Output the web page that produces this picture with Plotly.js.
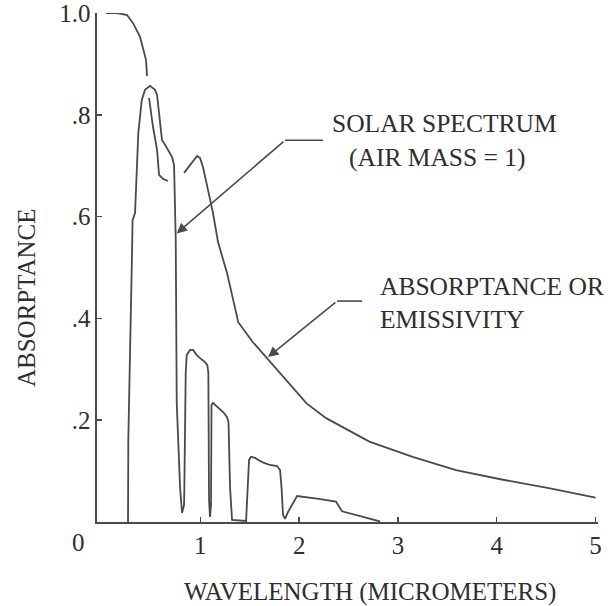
<!DOCTYPE html>
<html>
<head>
<meta charset="utf-8">
<script src="https://cdn.plot.ly/plotly-3.0.1.min.js"></script>
<style>html,body{margin:0;padding:0;background:#fff;}#chart{width:613px;height:606px;}</style>
</head>
<body>
<div id="chart"></div>
<script>
// Solar spectrum (air mass = 1), wavelength in micrometers
const solarX = [0.268,0.271,0.309,0.314,0.339,0.372,0.407,0.440,0.491,0.541,0.562,0.612,0.643,0.714,0.734,0.751,0.761,0.795,0.815,0.835,0.838,0.852,0.862,0.896,0.926,0.964,0.997,1.047,1.071,1.081,1.088,1.098,1.108,1.113,1.128,1.179,1.240,1.270,1.285,1.301,1.321,1.463,1.483,1.493,1.513,1.554,1.604,1.645,1.705,1.776,1.807,1.822,1.837,1.857,1.888,1.979,2.181,2.373,2.434,2.616,2.819];
const solarY = [0,0.161,0.534,0.593,0.607,0.764,0.829,0.849,0.857,0.849,0.839,0.750,0.741,0.717,0.701,0.554,0.234,0.067,0.018,0.033,0.067,0.293,0.328,0.338,0.338,0.328,0.322,0.314,0.308,0.293,0.043,0.010,0.033,0.230,0.234,0.224,0.214,0.206,0.196,0.067,0.004,0.002,0.067,0.122,0.128,0.126,0.120,0.116,0.112,0.110,0.102,0.067,0.014,0.006,0.020,0.051,0.046,0.040,0.021,0.012,0.001];

// Absorptance or emissivity curve (pen lifts shown as gaps)
const emisX = [0.046,0.157,0.258,0.319,0.390,0.420,0.450,0.461,null,0.481,0.521,0.562,0.582,0.623,0.673,null,0.835,0.916,0.967,0.997,1.027,1.078,1.128,1.179,1.270,1.372,1.382,1.524,1.675,2.009,2.075,2.273,2.711,3.149,3.587,4.064,4.541,5.0];
const emisY = [1.0,1.0,0.996,0.980,0.953,0.933,0.908,0.876,null,0.833,0.776,0.731,0.682,0.674,0.670,null,0.686,0.705,0.719,0.715,0.697,0.652,0.607,0.550,0.489,0.403,0.393,0.355,0.322,0.248,0.233,0.204,0.158,0.128,0.102,0.083,0.066,0.048];

const xTickVals = [1,2,3,4,5];
const xTickText = ['1','2','3','4','5'];
const yTickVals = [0.2,0.4,0.6,0.8,1.0];
const yTickText = ['.2','.4','.6','.8','1.0'];

const FONT = 'Liberation Serif, Times New Roman, serif';
const INK = '#4a4a4a';
const TXT = '#2e2e2e';

const traces = [
  {x: solarX, y: solarY, type: 'scatter', mode: 'lines', name: 'Solar spectrum',
   line: {color: INK, width: 1.8}, connectgaps: false, hoverinfo: 'x+y'},
  {x: emisX, y: emisY, type: 'scatter', mode: 'lines', name: 'Absorptance or emissivity',
   line: {color: INK, width: 1.8}, connectgaps: false, hoverinfo: 'x+y'}
];

const layout = {
  width: 613, height: 606,
  margin: {l: 97, r: 15, t: 13, b: 84},
  paper_bgcolor: '#ffffff', plot_bgcolor: '#ffffff',
  showlegend: false,
  font: {family: FONT, color: TXT, size: 25},
  xaxis: {
    range: [-0.046, 5.025], showgrid: false, zeroline: false,
    showline: true, linecolor: INK, linewidth: 1.6,
    ticks: 'inside', ticklen: 5, tickwidth: 1.5, tickcolor: INK,
    tickvals: xTickVals, ticktext: xTickText, ticklabeloverflow: 'allow',
    tickfont: {family: FONT, size: 25, color: TXT}
  },
  yaxis: {
    range: [0, 1.0], showgrid: false, zeroline: false,
    showline: true, linecolor: INK, linewidth: 1.6,
    ticks: 'inside', ticklen: 5, tickwidth: 1.5, tickcolor: INK,
    tickvals: yTickVals, ticktext: yTickText, ticklabeloverflow: 'allow',
    tickfont: {family: FONT, size: 25, color: TXT}
  },
  shapes: [
    {type: 'line', xref: 'x', yref: 'y', x0: 1.857, y0: 0.750, x1: 2.242, y1: 0.750, line: {color: INK, width: 1.6}},
    {type: 'line', xref: 'x', yref: 'y', x0: 2.383, y0: 0.434, x1: 2.637, y1: 0.434, line: {color: INK, width: 1.6}}
  ],
  annotations: [
    {x: 0.76, y: 0.567, xref: 'x', yref: 'y', ax: 1.857, ay: 0.750, axref: 'x', ayref: 'y',
     text: '', showarrow: true, arrowhead: 2, arrowsize: 1.3, arrowwidth: 1.6, arrowcolor: INK},
    {x: 1.685, y: 0.324, xref: 'x', yref: 'y', ax: 2.383, ay: 0.434, axref: 'x', ayref: 'y',
     text: '', showarrow: true, arrowhead: 2, arrowsize: 1.3, arrowwidth: 1.6, arrowcolor: INK},
    {x: 2.313, y: 0.783, xref: 'x', yref: 'y', xanchor: 'left', yanchor: 'middle', showarrow: false,
     text: 'SOLAR SPECTRUM', font: {family: FONT, size: 25.5, color: TXT}},
    {x: 2.485, y: 0.717, xref: 'x', yref: 'y', xanchor: 'left', yanchor: 'middle', showarrow: false,
     text: '(AIR MASS = 1)', font: {family: FONT, size: 25.5, color: TXT}},
    {x: 2.798, y: 0.462, xref: 'x', yref: 'y', xanchor: 'left', yanchor: 'middle', showarrow: false,
     text: 'ABSORPTANCE OR', font: {family: FONT, size: 25.5, color: TXT}},
    {x: 2.798, y: 0.397, xref: 'x', yref: 'y', xanchor: 'left', yanchor: 'middle', showarrow: false,
     text: 'EMISSIVITY', font: {family: FONT, size: 25.5, color: TXT}},
    {x: -0.036, y: -0.041, xref: 'paper', yref: 'paper', xanchor: 'center', yanchor: 'middle', showarrow: false,
     text: '0', font: {family: FONT, size: 25, color: TXT}},
    {x: -0.1417, y: 0.44, xref: 'paper', yref: 'paper', xanchor: 'center', yanchor: 'middle', showarrow: false,
     textangle: -90, text: 'ABSORPTANCE', font: {family: FONT, size: 25, color: TXT}},
    {x: 0.545, y: -0.1375, xref: 'paper', yref: 'paper', xanchor: 'center', yanchor: 'middle', showarrow: false,
     text: 'WAVELENGTH (MICROMETERS)', font: {family: FONT, size: 25, color: TXT}}
  ]
};

Plotly.newPlot('chart', traces, layout, {displayModeBar: false, staticPlot: true});
</script>
</body>
</html>
